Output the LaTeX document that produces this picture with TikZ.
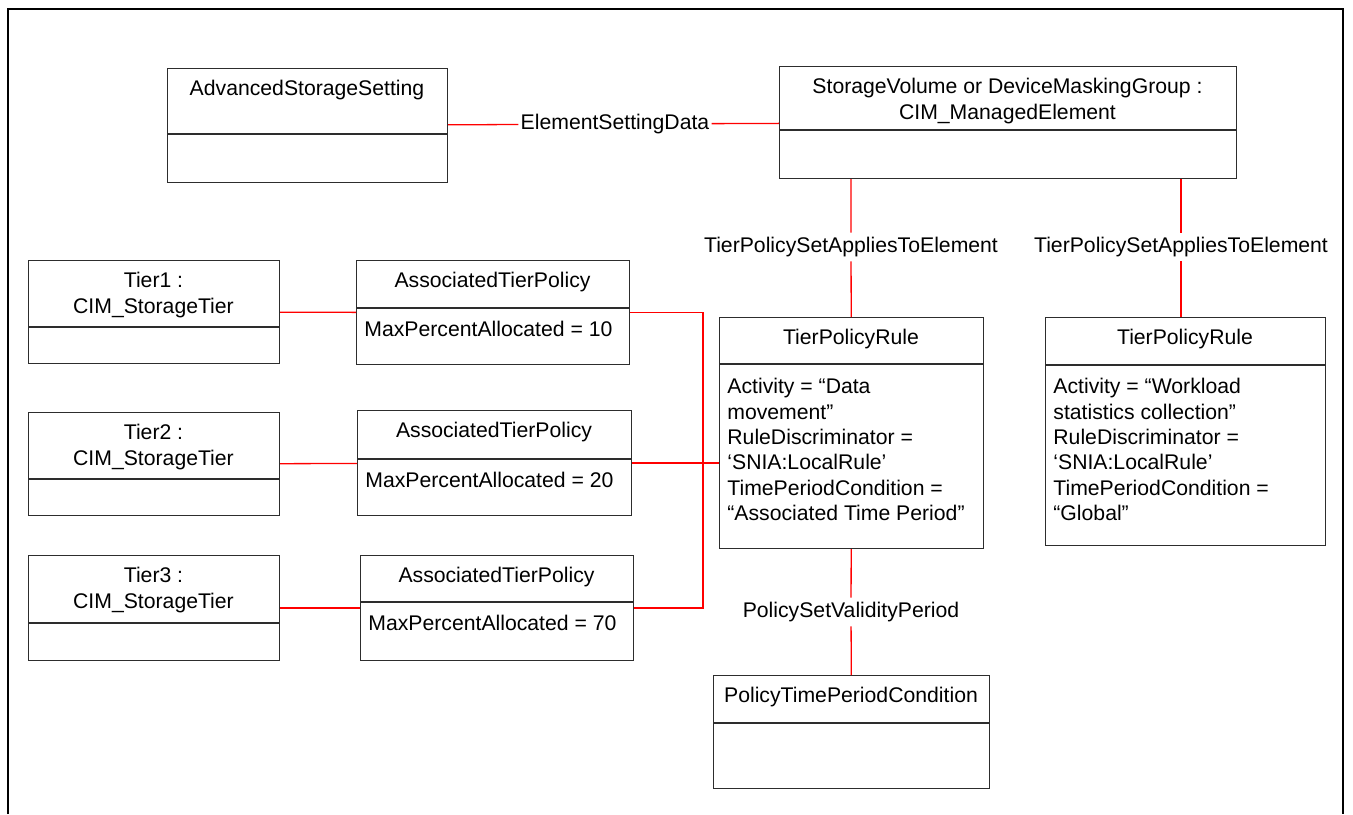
\documentclass[tikz,border=0pt]{standalone}
\usepackage{fontspec}
\setmainfont{Liberation Sans}
\usepackage{xcolor}
\usepackage{tikz}
\usetikzlibrary{positioning,calc}
\definecolor{boxgray}{RGB}{45,45,45}
\definecolor{assocred}{RGB}{255,0,0}
\newcommand{\umlfont}{\fontsize{10.6}{12.7}\selectfont}
\tikzset{
  classbox/.style={draw=boxgray, line width=0.55pt, inner sep=0pt, anchor=north west},
  classline/.style={draw=boxgray, line width=0.55pt},
  classtitle/.style={font=\umlfont, align=center, inner sep=0pt, anchor=north},
  classattr/.style={font=\umlfont, align=left, inner sep=0pt, anchor=north west},
  assocline/.style={draw=assocred, line width=0.65pt},
  assoclabel/.style={font=\umlfont, inner xsep=1pt, inner ysep=2pt},
  frameline/.style={draw=black, line width=1.4pt},
}
% class box: name, left, top, right, bottom, divider, title
\newcommand{\umlclass}[7]{%
  \node[classbox, minimum width={(#4-#2)*0.5pt}, minimum height={(#5-#3)*0.5pt}] (#1) at (#2,#3) {};
  \draw[classline] (#2,#6) -- (#4,#6);
  \node[classtitle] (#1-title) at ({(#2+#4)/2},#3+12) {#7};
}
\begin{document}
\begin{tikzpicture}[x=0.5pt, y=-0.5pt]
  \useasboundingbox (0,0) rectangle (1353,814);
  \draw[frameline] (8,814) -- (8,9) -- (1343,9) -- (1343,814);

  % Top row
  \umlclass{ass}{167}{68}{447}{182}{134}{AdvancedStorageSetting}
  \umlclass{sv}{779}{66}{1236}{178}{130}{StorageVolume or DeviceMaskingGroup :\\CIM\_ManagedElement}

  % Tiers
  \umlclass{tier1}{28}{260}{279}{363}{327}{Tier1 :\\CIM\_StorageTier}
  \umlclass{tier2}{28}{412}{279}{515}{479}{Tier2 :\\CIM\_StorageTier}
  \umlclass{tier3}{28}{555}{279}{660}{623}{Tier3 :\\CIM\_StorageTier}

  % Associated tier policies
  \umlclass{atp1}{356}{260}{629}{364}{308}{AssociatedTierPolicy}
  \node[classattr] (atp1-attrs) at (364,321) {MaxPercentAllocated = 10};
  \umlclass{atp2}{357}{410}{631}{515}{459}{AssociatedTierPolicy}
  \node[classattr] (atp2-attrs) at (365,472) {MaxPercentAllocated = 20};
  \umlclass{atp3}{360}{555}{633}{660}{602}{AssociatedTierPolicy}
  \node[classattr] (atp3-attrs) at (368,615) {MaxPercentAllocated = 70};

  % Rules
  \umlclass{tpr1}{719}{317}{983}{548}{364}{TierPolicyRule}
  \node[classattr] (tpr1-attrs) at (727,378) {Activity = “Data\\movement”\\RuleDiscriminator =\\‘SNIA:LocalRule’\\TimePeriodCondition =\\“Associated Time Period”};
  \umlclass{tpr2}{1045}{317}{1325}{545}{365}{TierPolicyRule}
  \node[classattr] (tpr2-attrs) at (1053,378) {Activity = “Workload\\statistics collection”\\RuleDiscriminator =\\‘SNIA:LocalRule’\\TimePeriodCondition =\\“Global”};

  \umlclass{ptpc}{713}{675}{989}{788}{723}{PolicyTimePeriodCondition}

  % Association labels
  \node[assoclabel] (esd) at (615,124) {ElementSettingData};
  \node[assoclabel] (apply1) at (851,247) {TierPolicySetAppliesToElement};
  \node[assoclabel] (apply2) at (1181,247) {TierPolicySetAppliesToElement};
  \node[assoclabel] (validity) at (851,612) {PolicySetValidityPeriod};
  \coordinate (bus) at (703,462);

  % Associations
  \draw[assocline] (ass) -- (esd) -- (sv);
  \draw[assocline] (sv.south -| apply1) -- (apply1) -- (tpr1);
  \draw[assocline] (sv.south -| apply2) -- (apply2) -- (apply2 |- tpr2.north);
  \foreach \i in {1,2,3}
    \draw[assocline] (tier\i) -- (atp\i);
  \draw[assocline] (atp1) -- (atp1 -| bus) -- (atp3 -| bus) -- (atp3);
  \draw[assocline] (atp2) -- (atp2 -| tpr1.west);
  \draw[assocline] (tpr1) -- (validity) -- (ptpc);
\end{tikzpicture}
\end{document}
